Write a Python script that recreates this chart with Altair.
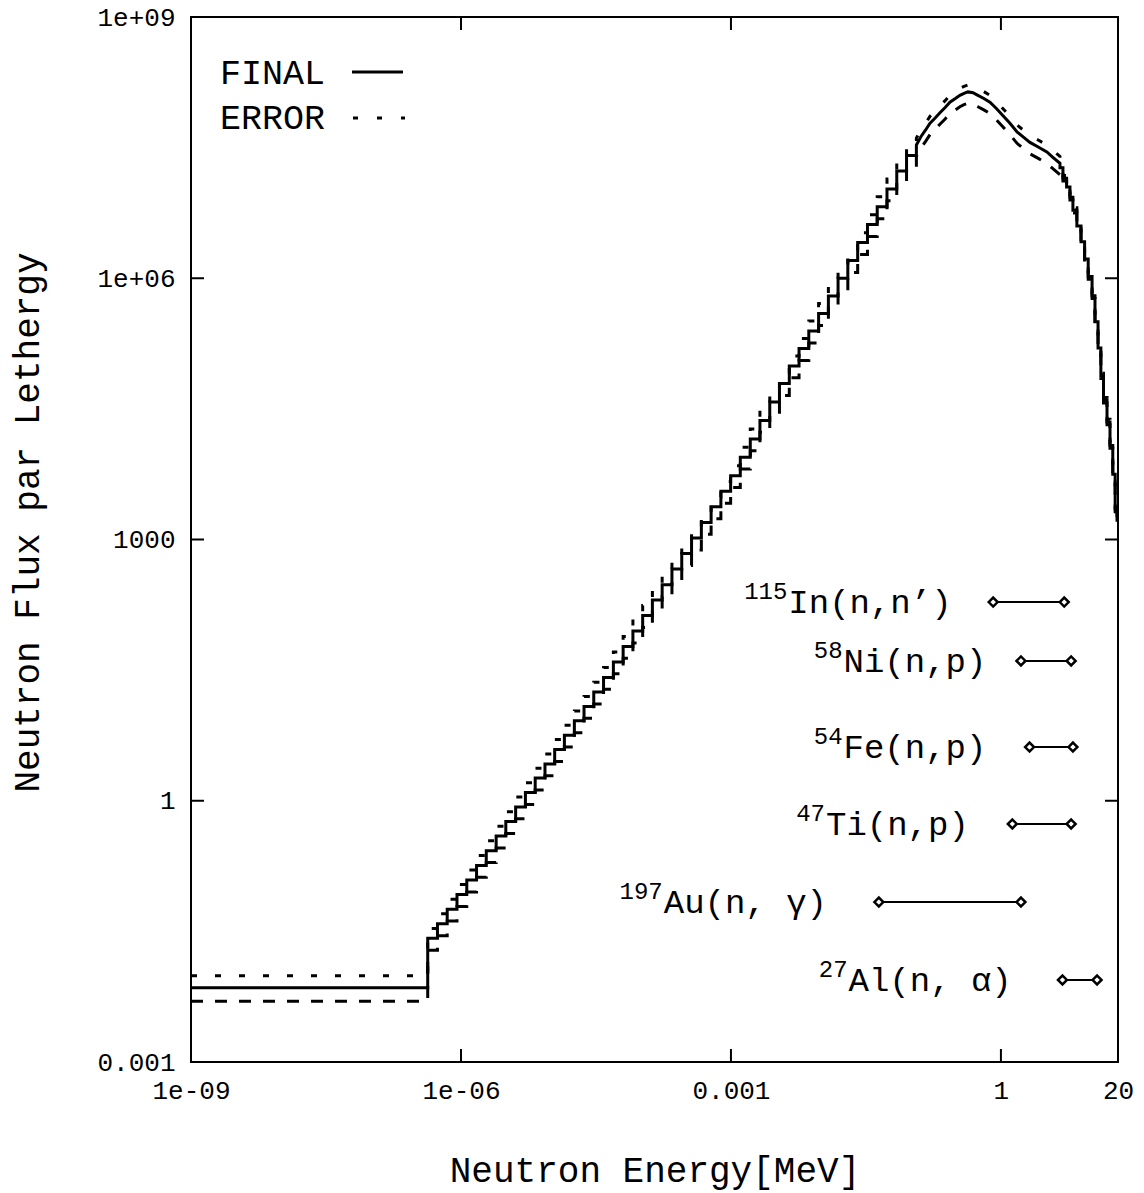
import math
import altair as alt
import pandas as pd

# ---------------- data ----------------
# low-energy histogram: group boundaries [MeV] and flux per lethargy of each group
hist_edges = [1e-9, 4.27e-7, 5.48e-7, 7.03e-7, 9.03e-7, 1.16e-6, 1.49e-6, 1.91e-6, 2.46e-6,
              3.15e-6, 4.05e-6, 5.20e-6, 6.68e-6, 8.58e-6, 1.10e-5, 1.41e-5, 1.82e-5, 2.33e-5,
              2.99e-5, 3.84e-5, 4.94e-5, 6.34e-5, 8.14e-5, 1.045e-4, 1.34e-4, 1.72e-4, 2.21e-4,
              2.84e-4, 3.65e-4, 4.69e-4, 6.02e-4, 7.73e-4, 9.92e-4, 1.27e-3, 1.64e-3, 2.10e-3,
              2.70e-3, 3.46e-3, 4.45e-3, 5.71e-3, 7.33e-3, 9.42e-3, 1.21e-2, 1.55e-2, 1.99e-2,
              2.56e-2, 3.29e-2, 4.22e-2, 5.42e-2, 6.96e-2, 8.94e-2, 0.115]
hist_flux = [0.0071,
             0.0263, 0.0387, 0.0569, 0.0838, 0.123, 0.181, 0.267, 0.393, 0.577, 0.849,
             1.24, 1.82, 2.65, 3.88, 5.66, 8.28, 12.1, 17.7, 26.1, 39.3,
             59.2, 88.9, 134, 202, 303, 457, 690, 1040, 1570, 2370,
             3570, 5410, 8810, 14300, 23300, 38000, 61800, 98400, 156000, 248000,
             394000, 627000, 998000, 1.60e6, 2.57e6, 4.13e6, 6.62e6, 1.06e7, 1.71e7, 2.56e7]
hist_err_up = [0.38] + [0.30] * 50
hist_err_dn = [0.30] + [0.27] * 50

# fast-neutron peak (smooth curve)
smooth_E = [0.115, 0.129, 0.145, 0.163, 0.186, 0.210, 0.240, 0.271, 0.309, 0.350, 0.389, 0.430,
            0.490, 0.555, 0.646, 0.755, 0.891, 1.05, 1.26, 1.51, 1.78, 2.10, 2.57, 3.24, 3.78, 4.53]
smooth_flux = [3.39e7, 4.22e7, 5.01e7, 6.03e7, 6.92e7, 7.94e7, 9.12e7, 1.05e8, 1.15e8, 1.26e8,
               1.33e8, 1.38e8, 1.35e8, 1.26e8, 1.16e8, 1.05e8, 8.91e7, 7.41e7, 6.03e7, 4.79e7,
               4.17e7, 3.63e7, 3.24e7, 2.82e7, 2.45e7, 2.09e7]
smooth_err_up = [0.20] * 26
smooth_err_dn = [0.26] * 26

# high-energy tail histogram
tail_edges = [4.53, 4.89, 5.37, 5.85, 6.31, 6.98, 7.76, 8.51, 9.33, 10.3, 11.1, 12.0, 12.9,
              13.8, 15.1, 16.3, 17.5, 18.6, 19.5, 20.0]
tail_flux = [1.86e7, 1.41e7, 1.12e7, 8.51e6, 6.03e6, 3.98e6, 2.63e6, 1.66e6, 1.05e6, 6.31e5,
             3.16e5, 1.58e5, 7.59e4, 3.98e4, 2.24e4, 1.20e4, 5620, 2240, 1660]
tail_err_up = [0.07] * 19
tail_err_dn = [0.07] * 19

# axes
x_ticks = [1e-9, 1e-6, 1e-3, 1, 20]
x_tick_labels = ["1e-09", "1e-06", "0.001", "1", "20"]
y_ticks = [1e-3, 1, 1e3, 1e6, 1e9]
y_tick_labels = ["0.001", "1", "1000", "1e+06", "1e+09"]
x_inner_ticks = [1e-6, 1e-3, 1]
y_inner_ticks = [1, 1e3, 1e6]

# dosimetry reactions: response energy ranges
react_mass = ["115", "58", "54", "47", "197", "27"]
react_name = ["In(n,n’)", "Ni(n,p)", "Fe(n,p)", "Ti(n,p)", "Au(n, γ)", "Al(n, α)"]
react_E_lo = [0.820, 1.67, 2.08, 1.34, 0.0440, 4.83]
react_E_hi = [5.05, 6.03, 6.31, 6.03, 1.67, 11.7]
react_level = [191, 40.3, 4.14, 0.541, 0.0687, 0.00875]
react_label_E = [0.283, 0.689, 0.689, 0.44, 0.01167, 1.32]

# ---------------- build tables ----------------
rows = []


def add(e, v, up, dn):
    rows.append({"E": e, "F": v, "Fhi": v * (1 + up), "Flo": v * (1 - dn), "o": len(rows)})


for i, v in enumerate(hist_flux):
    add(hist_edges[i], v, hist_err_up[i], hist_err_dn[i])
    add(hist_edges[i + 1], v, hist_err_up[i], hist_err_dn[i])
for e, v, u, d in zip(smooth_E, smooth_flux, smooth_err_up, smooth_err_dn):
    add(e, v, u, d)
for i, v in enumerate(tail_flux):
    add(tail_edges[i], v, tail_err_up[i], tail_err_dn[i])
    add(tail_edges[i + 1], v, tail_err_up[i], tail_err_dn[i])
spec = pd.DataFrame(rows)

react = pd.DataFrame({"mass": react_mass, "name": react_name, "E_lo": react_E_lo,
                      "E_hi": react_E_hi, "F": react_level, "E_lab": react_label_E})

FONT = "Liberation Mono"
W, H = 927, 1045


def label_expr(vals, labels):
    expr = "''"
    for v, l in reversed(list(zip(vals, labels))):
        expr = f"abs(log(datum.value)-({math.log(v)}))<0.01 ? '{l}' : {expr}"
    return expr


xscale = alt.Scale(type="log", domain=[1e-9, 20], nice=False)
yscale = alt.Scale(type="log", domain=[1e-3, 1e9], nice=False)

xaxis = alt.Axis(values=x_ticks, labelExpr=label_expr(x_ticks, x_tick_labels), tickSize=0,
                 domain=False, grid=False, labelFont=FONT, labelFontSize=26, labelPadding=15,
                 labelFlush=False, labelOverlap=False, labelBound=False, labelColor="black",
                 title="Neutron Energy[MeV]", titleFont=FONT, titleFontSize=36,
                 titleFontWeight="normal", titleY=108, titleBaseline="middle", titleColor="black")
yaxis = alt.Axis(values=y_ticks, labelExpr=label_expr(y_ticks, y_tick_labels), tickSize=0,
                 domain=False, grid=False, labelFont=FONT, labelFontSize=26, labelPadding=16,
                 labelFlush=False, labelOverlap=False, labelBound=False, labelColor="black",
                 title="Neutron Flux par Lethergy", titleFont=FONT, titleFontSize=36,
                 titleFontWeight="normal", titleX=-164, titleY=505, titleAngle=270,
                 titleAlign="center", titleBaseline="middle", titleColor="black")

base = alt.Chart(spec)
final = base.mark_line(color="black", strokeWidth=3, clip=True).encode(
    x=alt.X("E:Q", scale=xscale, axis=xaxis),
    y=alt.Y("F:Q", scale=yscale, axis=yaxis),
    order="o:Q")
upper = base.mark_line(color="black", strokeWidth=3, strokeDash=[6, 18], clip=True).encode(
    x="E:Q", y="Fhi:Q", order="o:Q")
lower = base.mark_line(color="black", strokeWidth=3, strokeDash=[12, 12], clip=True).encode(
    x="E:Q", y="Flo:Q", order="o:Q")

# inward ticks on all four sides
xt = alt.Chart(pd.DataFrame({"E": x_inner_ticks}))
yt = alt.Chart(pd.DataFrame({"F": y_inner_ticks}))
ticks = [
    xt.mark_rule(color="black", strokeWidth=2).encode(x="E:Q", y=alt.value(H), y2=alt.value(H - 13)),
    xt.mark_rule(color="black", strokeWidth=2).encode(x="E:Q", y=alt.value(0), y2=alt.value(13)),
    yt.mark_rule(color="black", strokeWidth=2).encode(y="F:Q", x=alt.value(0), x2=alt.value(13)),
    yt.mark_rule(color="black", strokeWidth=2).encode(y="F:Q", x=alt.value(W), x2=alt.value(W - 13)),
]

# key (upper left)
one = alt.Chart(pd.DataFrame({"a": [0]}))
key = [
    one.mark_text(font=FONT, fontSize=35, align="left", baseline="middle", color="black").encode(
        x=alt.value(29), y=alt.value(56), text=alt.value("FINAL")),
    one.mark_text(font=FONT, fontSize=35, align="left", baseline="middle", color="black").encode(
        x=alt.value(29), y=alt.value(101), text=alt.value("ERROR")),
    one.mark_rule(color="black", strokeWidth=3).encode(
        x=alt.value(161), x2=alt.value(212), y=alt.value(55)),
    one.mark_rule(color="black", strokeWidth=3, strokeDash=[5, 19]).encode(
        x=alt.value(162), x2=alt.value(214), y=alt.value(101)),
]

# reaction response ranges
rc = alt.Chart(react)
reactions = [
    rc.mark_rule(color="black", strokeWidth=2).encode(x="E_lo:Q", x2="E_hi:Q", y="F:Q"),
    rc.mark_point(shape="diamond", filled=True, fill="white", stroke="black", strokeWidth=2.5,
                  size=80, opacity=1).encode(x="E_lo:Q", y="F:Q"),
    rc.mark_point(shape="diamond", filled=True, fill="white", stroke="black", strokeWidth=2.5,
                  size=80, opacity=1).encode(x="E_hi:Q", y="F:Q"),
    rc.mark_text(font=FONT, fontSize=34, align="right", baseline="alphabetic", dy=11,
                 color="black").encode(x="E_lab:Q", y="F:Q", text="name:N"),
]
for i in range(len(react_name)):
    shift = -len(react_name[i]) * 20.4 - 1
    reactions.append(
        alt.Chart(react.iloc[[i]]).mark_text(font=FONT, fontSize=24, align="right",
                                             baseline="alphabetic", dx=shift, dy=-3,
                                             color="black").encode(
            x="E_lab:Q", y="F:Q", text="mass:N"))

chart = alt.layer(final, upper, lower, *ticks, *key, *reactions).properties(
    width=W, height=H,
    autosize=alt.AutoSizeParams(type="none"),
    padding={"left": 191, "top": 17, "right": 26, "bottom": 131},
    background="white",
).configure_view(stroke="black", strokeWidth=2)

chart.save("out.html", embed_options={"renderer": "svg", "actions": False})
